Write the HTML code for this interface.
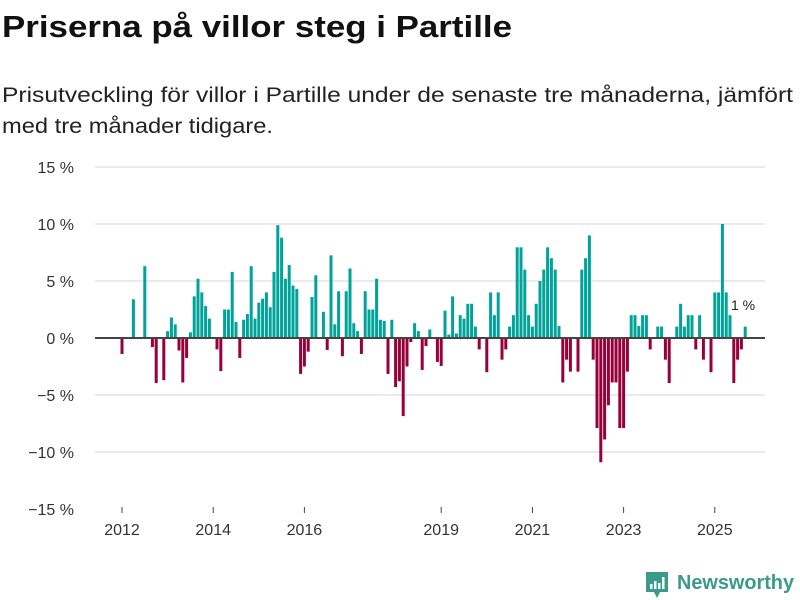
<!DOCTYPE html>
<html><head><meta charset="utf-8"><style>
html,body{margin:0;padding:0;background:#fff;}
svg{display:block;font-family:"Liberation Sans",sans-serif;}
</style></head><body>
<svg id="chart" width="800" height="600" viewBox="0 0 800 600" xmlns="http://www.w3.org/2000/svg">
<text x="2" y="37" font-size="31" font-weight="bold" fill="#111" textLength="510" lengthAdjust="spacingAndGlyphs">Priserna på villor steg i Partille</text>
<text x="2" y="102" font-size="21" fill="#222" textLength="791" lengthAdjust="spacingAndGlyphs">Prisutveckling för villor i Partille under de senaste tre månaderna, jämfört</text>
<text x="2" y="133" font-size="21" fill="#222" textLength="271" lengthAdjust="spacingAndGlyphs">med tre månader tidigare.</text>
<g id="grid"></g>
<g id="bars"></g>
<g id="xaxis"></g>
<text x="731" y="310" font-size="14" fill="#222">1 %</text>
<g>
<path d="M646 572 h22 v20 h-8 l-3 6 l-3 -6 h-8 z" fill="#3a9a8c"/>
<rect x="650" y="584" width="2.5" height="5" fill="#fff"/>
<rect x="654" y="581" width="2.5" height="8" fill="#fff"/>
<rect x="658" y="583" width="2.5" height="6" fill="#fff"/>
<rect x="662" y="577" width="2.5" height="12" fill="#fff"/>
<text x="677" y="589" font-size="20" font-weight="bold" fill="#3a9a8c" textLength="117" lengthAdjust="spacingAndGlyphs">Newsworthy</text>
</g>
</svg>
<script>
const values = [-1.4,0,0,3.4,0,0,6.3,0,-0.8,-3.95,0,-3.7,0.6,1.8,1.2,-1.1,-3.9,-1.75,0.5,3.65,5.2,4.0,2.8,1.7,0,-1.0,-2.9,2.5,2.5,5.8,1.4,-1.75,1.6,2.1,6.3,1.7,3.1,3.45,4.0,2.7,5.8,9.9,8.8,5.2,6.4,4.6,4.3,-3.15,-2.5,-1.2,3.6,5.5,0,2.3,-1.05,7.25,1.2,4.1,-1.6,4.1,6.1,1.3,0.6,-1.4,4.1,2.5,2.5,5.2,1.6,1.5,-3.15,1.6,-4.3,-3.8,-6.85,-2.5,-0.35,1.3,0.6,-2.8,-0.7,0.75,0,-2.1,-2.45,2.4,0.3,3.65,0.4,2.0,1.7,3.0,3.0,1.0,-1.0,0,-3.0,4.0,2.0,4.0,-1.9,-1.0,1.0,2.0,7.95,7.95,6.0,2.0,1.0,3.0,5.0,6.0,7.95,7.0,6.0,1.05,-3.9,-1.9,-2.95,0,-2.95,6.0,7.0,9.0,-1.9,-7.9,-10.9,-8.9,-5.9,-3.9,-3.9,-7.9,-7.9,-2.95,2.0,2.0,1.05,2.0,2.0,-1.0,0,1.0,1.0,-1.9,-3.95,0,1.0,3.0,1.0,2.0,2.0,-1.0,2.0,-1.9,0,-3.0,4.0,4.0,10.0,4.0,2.0,-3.95,-1.9,-1.0,1.0];
const yTicks = [15,10,5,0,-5,-10,-15];
const yTickLabels = ["15 %","10 %","5 %","0 %","\u22125 %","\u221210 %","\u221215 %"];
const xTickYears = [2012,2014,2016,2019,2021,2023,2025];
const startYear = 2012;

const NS = "http://www.w3.org/2000/svg";
function x(i){ return 122 + i*3.8; }
function y(v){ return 338 - v*11.4; }
function mk(tag, attrs, parent){ const e=document.createElementNS(NS,tag); for(const k in attrs) e.setAttribute(k,attrs[k]); parent.appendChild(e); return e; }
const grid=document.getElementById('grid'), bars=document.getElementById('bars'), xa=document.getElementById('xaxis');
yTicks.forEach((t,k)=>{
  if(t!==0 && t!==-15){
    const l=mk('line',{x1:95,x2:765,y1:y(t),y2:y(t),stroke:'#e3e3e3','stroke-width':1.5},grid);
    
    
  }
  const tx=mk('text',{x:74,y:y(t)+6,'text-anchor':'end','font-size':16,fill:'#333'},grid);
  tx.textContent=yTickLabels[k];
  
  
});
values.forEach((v,i)=>{
  if(v===0) return;
  const r=mk('rect',{x:x(i)-1.5,width:3,y:Math.min(y(v),y(0)),height:Math.abs(y(v)-y(0)),fill:v>0?'#00a398':'#98003a'},bars);
  
  
});
const zl=mk('line',{x1:95,x2:765,y1:y(0),y2:y(0),stroke:'#444','stroke-width':2},grid.parentNode);


xTickYears.forEach(yr=>{
  const xi=x((yr-startYear)*12);
  const tk=mk('line',{x1:xi,x2:xi,y1:507,y2:513,stroke:'#444','stroke-width':1},xa);
  
  
  const t=mk('text',{x:xi,y:535,'text-anchor':'middle','font-size':16,fill:'#333'},xa);
  t.textContent=String(yr);
  
  
});
</script>
</body></html>
